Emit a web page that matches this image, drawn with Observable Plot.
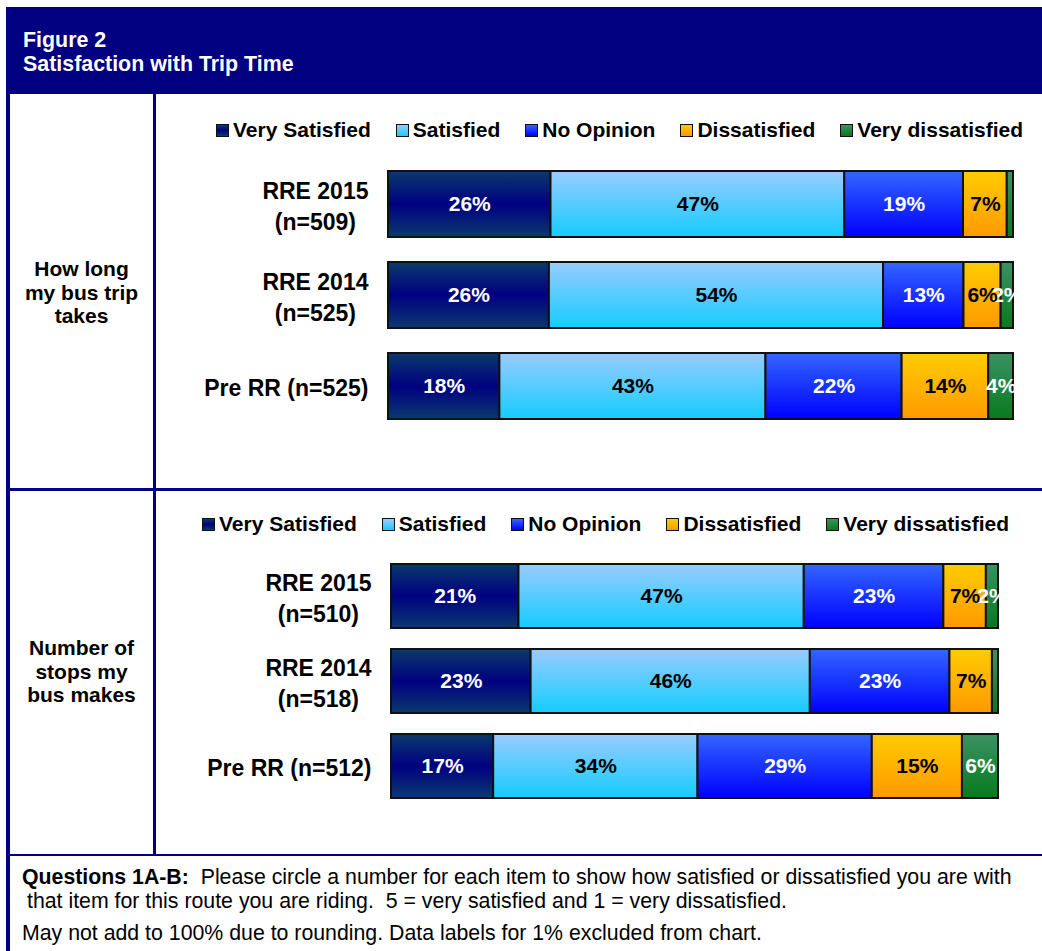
<!DOCTYPE html>
<html>
<head>
<meta charset="utf-8">
<script src="https://cdn.jsdelivr.net/npm/d3@7"></script>
<script src="https://cdn.jsdelivr.net/npm/@observablehq/plot@0.6"></script>
<style>
  html, body { margin: 0; padding: 0; background: #fff; }
  body { width: 1042px; height: 951px; position: relative; overflow: hidden;
         font-family: "Liberation Sans", Arial, sans-serif; color: #000; }
  .abs { position: absolute; }
  .navy { background: #000080; }
  .title { left: 23px; top: 28px; color: #fff; font-weight: bold; font-size: 21.4px; line-height: 24px; }
  .side { left: 10px; width: 143px; text-align: center; font-weight: bold; font-size: 21px; line-height: 23.5px; }
  .legend { display: flex; align-items: center; font-weight: bold; font-size: 21px; height: 24px; white-space: nowrap; }
  .legend .item { display: flex; align-items: center; margin-right: 25px; }
  .legend .item:last-child { margin-right: 0; }
  .legend .sw { width: 11px; height: 11px; border: 1.6px solid #111; margin-right: 4px; }
  .foot { left: 22px; font-size: 21.3px; line-height: 24px; white-space: nowrap; }
</style>
</head>
<body>
<svg width="0" height="0" style="position:absolute">
  <defs>
    <linearGradient id="gVS" x1="0" y1="0" x2="0" y2="1">
      <stop offset="0" stop-color="#0a3a6e"/><stop offset="0.5" stop-color="#000080"/><stop offset="1" stop-color="#0a3a6e"/>
    </linearGradient>
    <linearGradient id="gS" x1="0" y1="0" x2="0" y2="1">
      <stop offset="0" stop-color="#99ccff"/><stop offset="1" stop-color="#14ccff"/>
    </linearGradient>
    <linearGradient id="gNO" x1="0" y1="0" x2="0" y2="1">
      <stop offset="0" stop-color="#3366ff"/><stop offset="1" stop-color="#0000ff"/>
    </linearGradient>
    <linearGradient id="gD" x1="0" y1="0" x2="0" y2="1">
      <stop offset="0" stop-color="#ffcc00"/><stop offset="1" stop-color="#ff9900"/>
    </linearGradient>
    <linearGradient id="gVD" x1="0" y1="0" x2="0" y2="1">
      <stop offset="0" stop-color="#3a9262"/><stop offset="1" stop-color="#087a1e"/>
    </linearGradient>
  </defs>
</svg>

<!-- frame -->
<div class="abs navy" style="left:6px; top:7px; width:1040px; height:87px;"></div>
<div class="abs title">Figure 2<br>Satisfaction with Trip Time</div>
<div class="abs navy" style="left:6px; top:7px; width:4px; height:950px;"></div>
<div class="abs navy" style="left:153px; top:94px; width:2.5px; height:761px;"></div>
<div class="abs navy" style="left:6px; top:488px; width:1040px; height:2.5px;"></div>
<div class="abs navy" style="left:6px; top:853.5px; width:1040px; height:2.5px;"></div>

<div class="abs side" style="top:257px;">How long<br>my bus trip<br>takes</div>
<div class="abs side" style="top:636px;">Number of<br>stops my<br>bus makes</div>

<div id="legend1" class="abs legend" style="left:216px; top:118px;"></div>
<div id="legend2" class="abs legend" style="left:202px; top:512px;"></div>

<div id="chart1"></div>
<div id="chart2"></div>

<div class="abs foot" style="top:865px; padding-left:5px; text-indent:-5px;"><b>Questions 1A-B:</b>&nbsp; Please circle a number for each item to show how satisfied or dissatisfied you are with<br>that item for this route you are riding.&nbsp; 5 = very satisfied and 1 = very dissatisfied.</div>
<div class="abs foot" style="top:921px;">May not add to 100% due to rounding. Data labels for 1% excluded from chart.</div>

<script>
// ---- data ----
const responses = ["Very Satisfied", "Satisfied", "No Opinion", "Dissatisfied", "Very dissatisfied"];
const gradientIds = ["url(#gVS)", "url(#gS)", "url(#gNO)", "url(#gD)", "url(#gVD)"];
const swatchCss = [
  "linear-gradient(#0a3a6e, #000080 50%, #0a3a6e)",
  "linear-gradient(#99ccff, #14ccff)",
  "linear-gradient(#3366ff, #0000ff)",
  "linear-gradient(#ffcc00, #ff9900)",
  "linear-gradient(#3a9262, #087a1e)"
];
const darkText = ["Satisfied", "Dissatisfied"];

const tripCategories = ["RRE 2015\n(n=509)", "RRE 2014\n(n=525)", "Pre RR (n=525)"];
const tripRRE2015 = [26, 47, 19, 7, 1];
const tripRRE2014 = [26, 54, 13, 6, 2];
const tripPreRR   = [18, 43, 22, 14, 4];

const stopsCategories = ["RRE 2015\n(n=510)", "RRE 2014\n(n=518)", "Pre RR (n=512)"];
const stopsRRE2015 = [21, 47, 23, 7, 2];
const stopsRRE2014 = [23, 46, 23, 7, 1];
const stopsPreRR   = [17, 34, 29, 15, 6];

function rows(categories, series) {
  const out = [];
  categories.forEach((c, i) => {
    series[i].forEach((v, j) => out.push({cat: c, resp: responses[j], value: v}));
  });
  return out;
}

const ctx = document.createElement("canvas").getContext("2d");
ctx.font = "bold 23px 'Liberation Sans', Arial, sans-serif";
function textWidth(s) {
  return Math.max(...s.split("\n").map(l => ctx.measureText(l).width));
}

function legend(el) {
  responses.forEach((r, i) => {
    const item = document.createElement("div");
    item.className = "item";
    const sw = document.createElement("div");
    sw.className = "sw";
    sw.style.background = swatchCss[i];
    const t = document.createElement("span");
    t.textContent = r;
    item.appendChild(sw);
    item.appendChild(t);
    el.appendChild(item);
  });
}
legend(document.getElementById("legend1"));
legend(document.getElementById("legend2"));

function chart({categories, data, left, top, width, height, marginLeft, marginRight, marginTop, padding}) {
  const labelMarks = categories.map(c => Plot.text([c], {
    y: d => d, text: d => d,
    frameAnchor: "left", textAnchor: "middle", lineAnchor: "middle",
    dx: -(20 + textWidth(c) / 2),
    lineHeight: 1.35, fontSize: 23, fontWeight: "bold", fill: "#000"
  }));
  const stackOpts = (textFn) => Plot.stackX({
    x: "value", y: "cat", offset: "normalize", text: textFn
  });
  const p = Plot.plot({
    width, height, marginLeft, marginRight, marginTop, marginBottom: 0,
    style: {fontFamily: "'Liberation Sans', Arial, sans-serif", background: "transparent", overflow: "visible"},
    x: {axis: null, domain: [0, 1]},
    y: {axis: null, domain: categories, padding},
    color: {domain: responses, range: gradientIds},
    marks: [
      Plot.barX(data, Plot.stackX({x: "value", y: "cat", fill: "resp", offset: "normalize",
        stroke: "#111", strokeWidth: 2})),
      Plot.text(data, {...stackOpts(d => (d.value > 1 && !darkText.includes(d.resp)) ? d.value + "%" : ""),
        fill: "white", fontSize: 21, fontWeight: "bold"}),
      Plot.text(data, {...stackOpts(d => (d.value > 1 && darkText.includes(d.resp)) ? d.value + "%" : ""),
        fill: "black", fontSize: 21, fontWeight: "bold"}),
      ...labelMarks
    ]
  });
  p.style.position = "absolute";
  p.style.left = left + "px";
  p.style.top = top + "px";
  p.style.maxWidth = "none";
  return p;
}

document.getElementById("chart1").appendChild(chart({
  categories: tripCategories,
  data: rows(tripCategories, [tripRRE2015, tripRRE2014, tripPreRR]),
  left: 156, top: 140, width: 886, height: 304,
  marginLeft: 232, marginRight: 29, marginTop: 5, padding: 0.28
}));
document.getElementById("chart2").appendChild(chart({
  categories: stopsCategories,
  data: rows(stopsCategories, [stopsRRE2015, stopsRRE2014, stopsPreRR]),
  left: 156, top: 537, width: 886, height: 283,
  marginLeft: 235, marginRight: 44, marginTop: 5, padding: 0.25
}));
</script>
</body>
</html>
